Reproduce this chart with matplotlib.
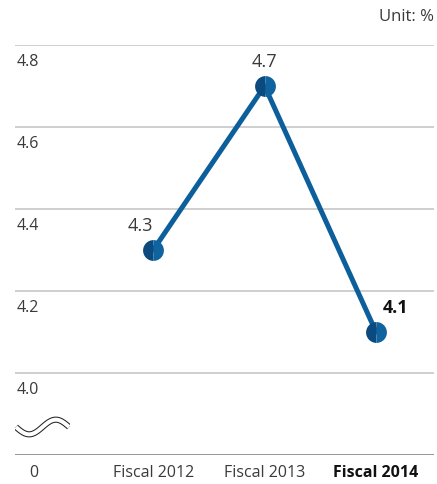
import matplotlib
matplotlib.use("Agg")
import matplotlib.pyplot as plt
import numpy as np

plt.rcParams['font.family'] = ['Open Sans', 'DejaVu Sans']

years = ['Fiscal 2012', 'Fiscal 2013', 'Fiscal 2014']
rates = [4.3, 4.7, 4.1]
value_labels = ['4.3', '4.7', '4.1']
grid_values = [4.8, 4.6, 4.4, 4.2, 4.0]
grid_labels = ['4.8', '4.6', '4.4', '4.2', '4.0']
# the baseline stands in for zero, one gap below 4.0 (broken axis)
base_value = 3.8
base_label = '0'

line_color = '#0d5f9c'
text_color = '#3a3a3a'

fig = plt.figure(figsize=(4.37, 4.84), dpi=100)
ax = fig.add_axes([15 / 437, 29 / 484, 419 / 437, 410 / 484])

x = np.arange(len(years))
ax.plot(x, rates, color=line_color, lw=3.6, solid_capstyle='round', zorder=3)
ax.plot(x, rates, 'o', ms=15, color='#0a4a7e', markerfacecoloralt='#0f64a0',
        fillstyle='left', markeredgewidth=0, zorder=4)

ax.set_xlim(-1.24, 2.52)
ax.set_ylim(base_value, 4.8)

for v, lab in zip(grid_values, grid_labels):
    ax.axhline(v, color='#cccccc', lw=1.3, zorder=1)
    ax.annotate(lab, (0, v), xycoords=('axes fraction', 'data'),
                xytext=(1, -12.5), textcoords='offset points',
                ha='left', va='center', fontsize=11.5, color=text_color)
ax.axhline(base_value, color='#777777', lw=1.8, zorder=2)
ax.annotate(base_label, (0, base_value), xycoords=('axes fraction', 'data'),
            xytext=(13.5, -13), textcoords='offset points',
            ha='center', va='center', fontsize=11.5, color=text_color)

# value labels
offsets = [(-9, 17), (0, 17), (14, 17)]
for i, (v, lab) in enumerate(zip(rates, value_labels)):
    last = i == len(rates) - 1
    ax.annotate(lab, (x[i], v), xytext=offsets[i], textcoords='offset points',
                ha='center', va='center', fontsize=13,
                fontweight='bold' if last else 'normal',
                color='#111111' if last else text_color)

ax.set_xticks(x)
ax.set_xticklabels(years, fontsize=11.5, color=text_color)
ax.get_xticklabels()[-1].set_fontweight('bold')
ax.get_xticklabels()[-1].set_color('#111111')
ax.tick_params(axis='x', length=0, pad=7.5)
ax.set_yticks([])
for s in ax.spines.values():
    s.set_visible(False)

fig.text(434 / 437, 1 - 17 / 484, 'Unit: %', ha='right', va='center',
         fontsize=12, color=text_color)

# axis break mark
brk = fig.add_axes([15 / 437, (484 - 438) / 484, 55 / 437, 22 / 484])
t = np.linspace(0, 2 * np.pi, 100)
brk.plot(t, np.sin(t + np.pi), color='#222222', lw=4.4, solid_capstyle='butt')
brk.plot(t, np.sin(t + np.pi), color='white', lw=2.9, solid_capstyle='butt')
brk.set_xlim(-0.1, 2 * np.pi + 0.1)
brk.set_ylim(-1.5, 1.5)
brk.axis('off')

fig.savefig('out.png', dpi=100)
